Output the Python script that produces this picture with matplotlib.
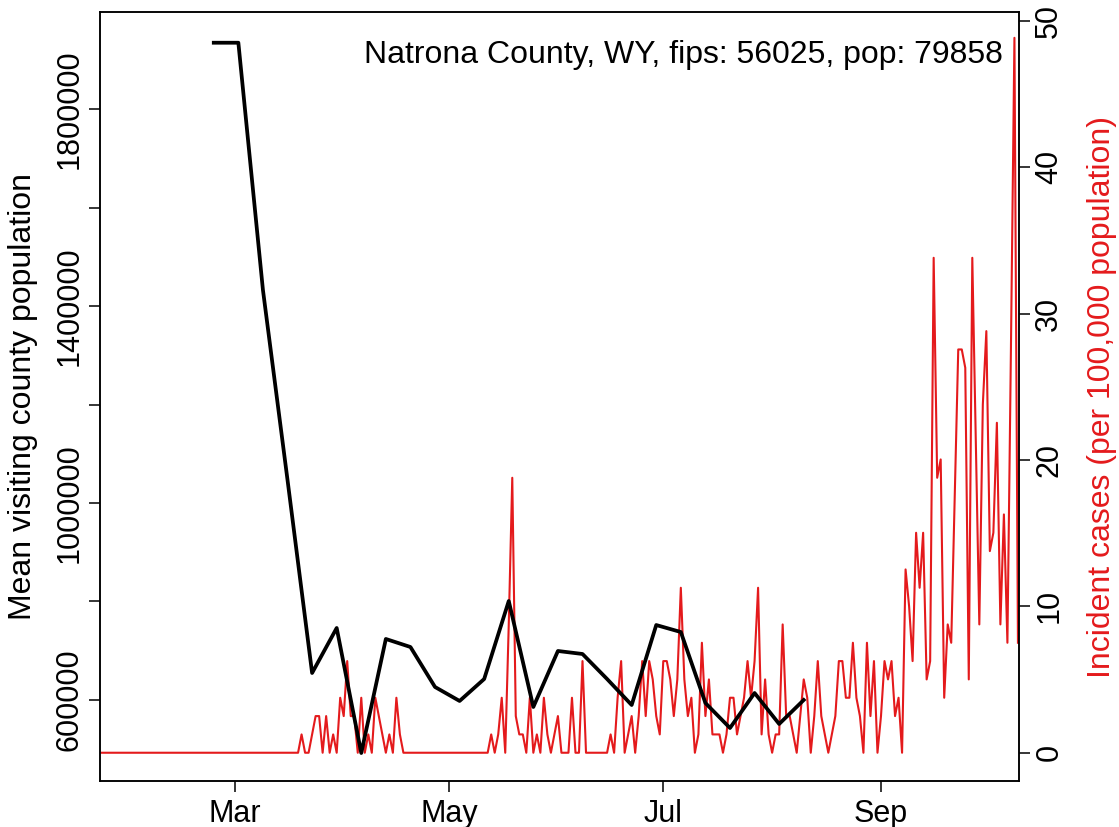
import matplotlib
matplotlib.use("Agg")
import matplotlib.pyplot as plt
import numpy as np
import pandas as pd

# weekly mean visiting population (Mondays)
visit_dates = pd.date_range("2020-02-24", "2020-08-10", freq="7D")
visit_pop = [1934600, 1934600, 1432500, 1046700, 654800, 746200, 492300,
             723900, 707600, 626400, 598000, 642600, 801000, 585800,
             699500, 693400, 642600, 589800, 752200, 738000, 593900,
             543100, 614200, 551300, 600000]

# daily new cases, 2020-01-23 .. 2020-10-10
case_dates = pd.date_range("2020-01-23", "2020-10-10", freq="D")
cases = ([0] * 57 +
         [1, 0, 0, 1, 2, 2, 0, 2, 0, 1, 0, 3, 2, 5, 2, 2, 0, 3, 0, 1,   # Mar 20 -
          0, 3, 2, 1, 0, 1, 0, 3, 1] +
         [0] * 25 +
         [1, 0, 1, 3, 0, 7, 15, 2, 1, 1, 0, 3, 0, 1, 0, 3, 1, 0, 1, 2,  # May 13 -
          0, 0, 0, 3, 0, 0, 5] +
         [0] * 7 +
         [1, 0, 3, 5, 0, 1, 2, 0, 2, 5, 2, 5, 4, 2, 1, 5, 5, 4, 2, 4,   # Jun 16 -
          9, 4, 2, 3, 0, 1, 6, 2, 4, 1, 1, 1, 0, 1, 3, 3, 1, 2, 3, 5,
          3, 5, 9, 1, 4, 1, 0, 1, 1, 7, 2, 2, 1, 0, 2, 4, 3, 0, 2, 5,
          2, 1, 0, 1, 2, 5, 5, 3, 3, 6, 3, 2, 0, 6, 2, 5, 0, 2, 5, 4,
          5, 2, 3, 0, 10, 8, 5, 12, 9, 12, 4, 5, 27, 15, 16, 3, 7, 6, 14, 22,
          22, 21, 4, 27, 17, 7, 19, 23, 11, 12, 18, 7, 13, 6, 22, 39, 6])
POP = 79858
incidence = np.array(cases) / POP * 100000

month_ticks = pd.to_datetime(["2020-03-01", "2020-05-01", "2020-07-01", "2020-09-01"])
month_labels = ["Mar", "May", "Jul", "Sep"]
left_ticks = [600000, 800000, 1000000, 1200000, 1400000, 1600000, 1800000]
left_labels = ["600000", "", "1000000", "", "1400000", "", "1800000"]
right_ticks = [0, 10, 20, 30, 40, 50]

RED = "#E41A1C"
plt.rcParams["font.family"] = ["Liberation Sans", "DejaVu Sans"]
FS = 23
TFS = 22

fig = plt.figure(figsize=(11.19, 8.27), dpi=100)
ax = fig.add_axes([100 / 1119, 1 - 781 / 827, 919 / 1119, 769 / 827])
ax2 = ax.twinx()

ax.plot(visit_dates, visit_pop, color="black", lw=2.7, zorder=3)
ax2.plot(case_dates, incidence, color=RED, lw=1.5)
ax.set_zorder(ax2.get_zorder() + 1)
ax.patch.set_visible(False)

base = pd.Timestamp("2020-03-01")
ax.set_xlim(base + pd.Timedelta(days=-38.4), base + pd.Timedelta(days=223.3))
ax.set_ylim(435500, 1997000)
ax2.set_ylim(-1.93, 50.6)

ax.set_xticks(month_ticks)
ax.set_xticklabels(month_labels, fontsize=TFS)
ax.set_yticks(left_ticks)
ax.set_yticklabels(left_labels, fontsize=TFS, rotation=90, va="center")
ax2.set_yticks(right_ticks)
ax2.set_yticklabels([str(t) for t in right_ticks], fontsize=TFS, rotation=90, va="center")
for a in (ax, ax2):
    a.tick_params(direction="out", length=8, width=1.1, pad=3)
    for s in a.spines.values():
        s.set_linewidth(1.1)
ax.tick_params(axis="x", pad=5)

ax.set_ylabel("Mean visiting county population", fontsize=FS)
ax.yaxis.set_label_coords(-0.068, 0.5)
ax2.set_ylabel("Incident cases (per 100,000 population)", fontsize=FS, color=RED)
ax2.yaxis.set_label_coords(1.074, 0.5)

ax.text(0.9826, 0.944, "Natrona County, WY, fips: 56025, pop: 79858",
        transform=ax.transAxes, ha="right", va="center", fontsize=FS)

fig.savefig("out.png", dpi=100)
